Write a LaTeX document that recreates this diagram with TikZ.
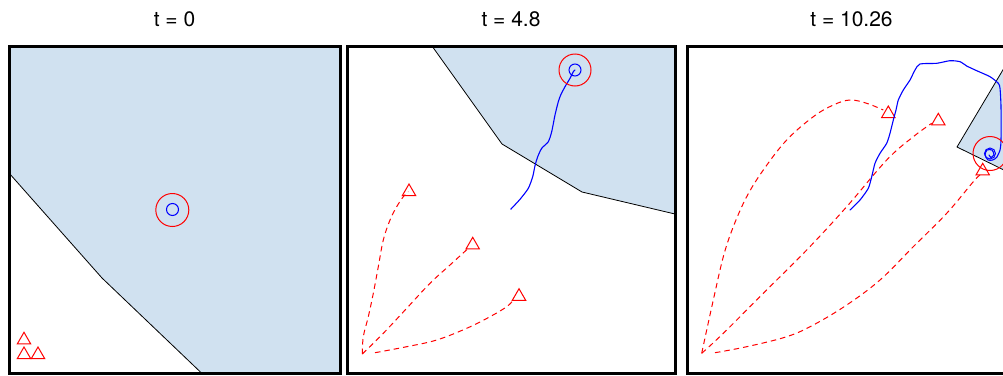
\documentclass[tikz,border=0pt]{standalone}
\usepackage{fontspec}
\setmainfont{TeX Gyre Heros}
\usetikzlibrary{shapes.geometric}
\definecolor{regionblue}{RGB}{208,225,240}
\definecolor{pathblue}{RGB}{0,0,255}
\definecolor{pathred}{RGB}{255,0,0}
\tikzset{
  region/.style={fill=regionblue, draw=none},
  border/.style={draw=black, line width=0.8pt, line join=round},
  frame/.style={draw=black, line width=3pt},
  trail/.style={draw=pathred, line width=1pt, dash pattern=on 5.5pt off 4pt},
  track/.style={draw=pathblue, line width=1.1pt, line join=round, line cap=round},
  tri/.style={regular polygon, regular polygon sides=3, draw=pathred, line width=1pt, minimum size=15.4pt, inner sep=0pt},
  outer/.style={circle, draw=pathred, line width=1pt, minimum size=33pt, inner sep=0pt},
  inner/.style={circle, draw=pathblue, line width=1pt, minimum size=12pt, inner sep=0pt},
  title/.style={font=\fontsize{21}{24}\selectfont, inner sep=0pt}
}
\begin{document}
\begin{tikzpicture}[x=1pt,y=-1pt]
\useasboundingbox (0,0) rectangle (1003,375);
\begin{scope}
\clip (0,0) rectangle (1003,375);
% ---------- Panel 1 ----------
\fill[region] (9,46) -- (340.5,46) -- (340.5,373.5) -- (202,373.5) -- (102,278) -- (9,173) -- cycle;
\draw[border] (9,173) -- (102,278) -- (202,373.5);
\node[outer] (c1) at (172.3,210) {};
\node[inner] (b1) at (172.5,209.5) {};
\node[tri] (p1a) at (24,340) {};
\node[tri] (p1b) at (24,354.7) {};
\node[tri] (p1c) at (38,354.7) {};
\draw[frame] (9,46) rectangle (340.5,373.5);
\node[title] (h1) at (174.5,19.5) {t = 0};
% ---------- Panel 2 ----------
\fill[region] (432,46) -- (502,144) -- (582,192) -- (675,214) -- (675,46) -- cycle;
\draw[border] (432,46) -- (502,144) -- (582,192) -- (675,214);
\coordinate (o2) at (362.3,354);
\coordinate (o2b) at (375,352.7);
\node[tri] (p2a) at (409,191.7) {};
\node[tri] (p2b) at (472.7,245) {};
\node[tri] (p2c) at (519,296.4) {};
\draw[trail] plot[smooth, tension=0.6] coordinates {(362.3,354) (363.3,336.7) (368.3,316.7) (373.3,293.3) (378.3,266.7) (383.3,240) (390,220) (396.7,206.7) (403.3,196.7) (408.3,191.7)};
\draw[trail] plot[smooth, tension=0.6] coordinates {(362.3,354) (383.3,333.3) (406.7,308.3) (430,283.3) (450,265) (468.3,248.3)};
\draw[trail] plot[smooth, tension=0.6] coordinates {(375,352.7) (406.7,346.7) (436.7,340) (466.7,328.3) (490,316.7) (506.7,306.7) (513.3,300)};
\draw[track] plot[smooth, tension=0.4] coordinates {(510.7,209.3) (520,199.3) (528.3,188.3) (532.7,176.7) (535,165.7) (537.7,156.7) (541.7,148.3) (548.3,141.7) (551.7,131.7) (555,115) (558.3,101.7) (560.7,95) (565,86.7) (570,78.3) (573.3,71.7) (575,70)};
\node[outer, minimum size=32pt] (c2) at (575,70) {};
\node[inner] (b2) at (575,70) {};
\draw[frame] (347.5,46) rectangle (675,373.5);
\node[title] (h2) at (511,19.5) {t = 4.8};
% ---------- Panel 3 ----------
\fill[region] (957,147) -- (1010,58) -- (1010,173) -- cycle;
\draw[border] (1010,58) -- (957,147) -- (1010,173);
\node[tri] (p3a) at (888.3,113.7) {};
\node[tri] (p3b) at (938.3,121) {};
\node[tri] (p3c) at (982.7,171) {};
\draw[trail] plot[smooth, tension=0.6] coordinates {(701.7,353.3) (706.7,330) (713.3,300) (723.3,256.7) (733.3,226.7) (746.7,196.7) (763.3,170) (786.7,140) (813.3,116.7) (833.3,105) (850,100) (866.7,103.3) (883.3,110)};
\draw[trail] plot[smooth, tension=0.6] coordinates {(701.7,353.3) (723.3,333.3) (763.3,293.3) (806.7,250) (846.7,206.7) (886.7,160) (913.3,136.7) (931.7,123.3)};
\draw[trail] plot[smooth, tension=0.6] coordinates {(715,352.7) (746.7,346.7) (786.7,336.7) (813.3,325) (846.7,305) (880,280) (913.3,246.7) (946.7,213.3) (973.3,181.7) (980,175)};
\draw[track] plot[smooth, tension=0.4] coordinates {(850,210) (860,200) (868.3,188.3) (871.7,176.7) (875,163.3) (880,153.3) (886.7,143.3) (890,133.3) (893.3,120) (896,110) (898.3,100) (903.3,90) (910,80) (915,70) (920,64) (936.7,63.3) (950,60.7) (960,61.7) (966.7,66) (976.7,70.7) (990,76.7) (998.3,83.3) (1000,88.3) (1001,106.7) (1001,140) (1000,150) (996.7,157.3) (992.7,160) (988,160) (985,155) (987,150) (992,150) (994,154.5) (991,157.5) (989,155)};
\node[outer, minimum size=34pt] (c3) at (990,153.5) {};
\node[inner, minimum size=11pt] (b3) at (990,153.5) {};
\draw[frame] (687.5,46) rectangle (1019,373.5);
\node[title] (h3) at (851.5,19.5) {t = 10.26};
\end{scope}
\end{tikzpicture}
\end{document}
